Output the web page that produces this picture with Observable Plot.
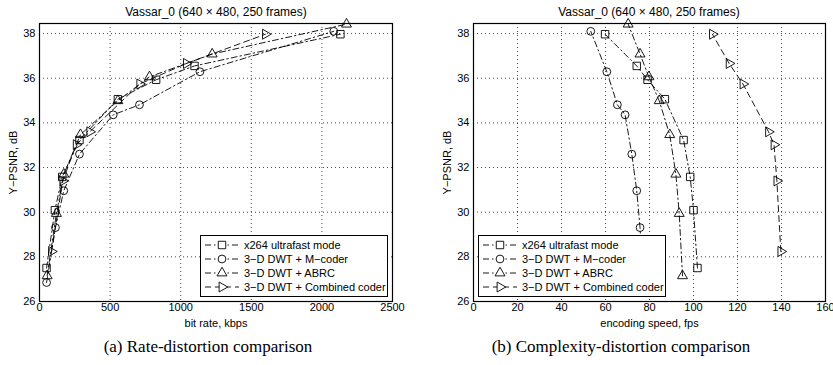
<!DOCTYPE html>
<html><head><meta charset="utf-8">
<script src="https://cdn.jsdelivr.net/npm/d3@7"></script>
<script src="https://cdn.jsdelivr.net/npm/@observablehq/plot@0.6"></script>
<style>
body{margin:0;background:#fff;}
#wrap{position:relative;width:833px;height:365px;overflow:hidden;font-family:"Liberation Sans",Arial,sans-serif;color:#000;}
.abs{position:absolute;}
.title{font-size:12px;transform:translateX(-50%);white-space:nowrap;}
.cap{font-family:"Liberation Serif","Times New Roman",serif;font-size:17px;transform:translateX(-50%);white-space:nowrap;}
.legend{border:1px solid #000;background:#fff;font-size:11px;box-sizing:border-box;padding:2px 0 0 3px;}
.legend .row{display:flex;align-items:center;height:14px;}
.legend svg{margin-right:4px;}
</style>
</head><body>
<div id="wrap"></div>
<script>
// ---- data ----
const seriesNames = ["x264 ultrafast mode", "3\u2212D DWT + M\u2212coder", "3\u2212D DWT + ABRC", "3\u2212D DWT + Combined coder"];
const psnrX264  = [27.5, 30.09, 31.58, 33.23, 35.06, 35.93, 36.55, 37.97];
const rateX264  = [50, 109, 161, 283, 555, 826, 1098, 2131];
const speedX264 = [101.8, 100, 98.5, 95.5, 87.0, 79.1, 74.2, 59.8];

const psnrM  = [26.85, 29.31, 30.96, 32.6, 34.36, 34.81, 36.29, 38.1];
const rateM  = [50, 113, 172, 283, 522, 708, 1136, 2084];
const speedM = [77, 75.7, 74.2, 71.95, 68.9, 65.4, 60.6, 53.3];

const psnrA  = [27.15, 29.94, 31.7, 33.47, 34.99, 36.06, 37.08, 38.42];
const rateA  = [54, 120, 172, 290, 555, 779, 1223, 2174];
const speedA = [95, 93.5, 92, 89.2, 84.4, 79.7, 75.7, 70.3];

const psnrC  = [28.24, 31.4, 33.02, 33.6, 35.74, 36.66, 37.97];
const rateC  = [85, 165, 260, 356, 710, 1040, 1600];
const speedC = [139.7, 137.9, 136.6, 134.1, 122.5, 116.2, 108.6];

const yTicks = [26, 28, 30, 32, 34, 36, 38];
const rateTicks = [0, 500, 1000, 1500, 2000, 2500];
const speedTicks = [0, 20, 40, 60, 80, 100, 120, 140, 160];

// ---- styles ----
const triRight = {draw(ctx, size){ const y = -Math.sqrt(size / (Math.sqrt(3) * 3)); const s3 = Math.sqrt(3);
  ctx.moveTo(-2*y, 0); ctx.lineTo(y, s3*y); ctx.lineTo(y, -s3*y); ctx.closePath(); }};
const styles = [
  {symbol: "square", r: 4.2, dash: "6,3,1.5,3"},
  {symbol: "circle", r: 3.9, dash: "6,3,1.5,3"},
  {symbol: "triangle", r: 3.7, dash: "6,3,1.5,3"},
  {symbol: triRight, r: 3.7, dash: "6,4"}
];
const psnrs = [psnrX264, psnrM, psnrA, psnrC];
const rates = [rateX264, rateM, rateA, rateC];
const speeds = [speedX264, speedM, speedA, speedC];

function rows(xs, k){ return xs[k].map((x,i)=>({x, y: psnrs[k][i]})); }

function chart(xs, xDomain, xTicks, xLabel, width, ml, mr){
  const marks = [
    Plot.ruleX(xTicks, {stroke:"#000", strokeOpacity:0.8, strokeDasharray:"1,3", strokeWidth:0.9}),
    Plot.ruleY(yTicks, {stroke:"#000", strokeOpacity:0.8, strokeDasharray:"1,3", strokeWidth:0.9}),
  ];
  styles.forEach((s,k)=>{
    const d = rows(xs,k);
    marks.push(Plot.line(d, {x:"x", y:"y", stroke:"#000", strokeWidth:0.9, strokeDasharray:s.dash}));
    marks.push(Plot.dot(d, {x:"x", y:"y", symbol: ()=>s.symbol, r:s.r, stroke:"#000", fill:"none", strokeWidth:0.9}));
  });
  marks.push(Plot.frame({stroke:"#000", strokeWidth:1.2}));
  marks.push(Plot.axisX({ticks:xTicks, tickSize:0, tickPadding:2, tickFormat:d3.format("d"), label:xLabel, labelAnchor:"center", labelArrow:"none", labelOffset:25}));
  marks.push(Plot.axisY({ticks:yTicks, tickSize:0, tickPadding:4, tickFormat:d3.format("d"), label:"Y\u2212PSNR, dB", labelAnchor:"center", labelArrow:"none", labelOffset:30}));
  return Plot.plot({
    width, height:329, marginLeft:ml, marginRight:mr, marginTop:23, marginBottom:28,
    x:{domain:xDomain}, y:{domain:[26,38.45]},
    symbol:{type:"identity"},
    style:{fontFamily:"Liberation Sans, Arial, sans-serif", fontSize:"11px", color:"#000", background:"transparent", overflow:"visible"},
    marks
  });
}

const wrap = document.getElementById("wrap");
function place(el, left, top){ el.classList.add("abs"); el.style.left=left+"px"; el.style.top=top+"px"; wrap.appendChild(el); return el; }

place(chart(rates, [0,2500], rateTicks, "bit rate, kbps", 410, 39, 18), 0, 0);
place(chart(speeds, [0,160], speedTicks, "encoding speed, fps", 423, 63, 8), 410, 0);

function div(cls, text){ const d=document.createElement("div"); d.className=cls; d.textContent=text; return d; }
place(div("title","Vassar_0 (640 \u00d7 480, 250 frames)"), 216, 5);
place(div("title","Vassar_0 (640 \u00d7 480, 250 frames)"), 649, 5);
place(div("cap","(a) Rate-distortion comparison"), 208, 337);
place(div("cap","(b) Complexity-distortion comparison"), 621, 337);

function legend(left, top){
  const box = document.createElement("div"); box.className="legend";
  box.style.width="188px"; box.style.height="62px";
  styles.forEach((s,k)=>{
    const row = document.createElement("div"); row.className="row";
    const sv = d3.create("svg").attr("width",36).attr("height",12);
    sv.append("line").attr("x1",1).attr("x2",35).attr("y1",6).attr("y2",6).attr("stroke","#000").attr("stroke-width",0.9).attr("stroke-dasharray",s.dash);
    const sym = typeof s.symbol==="string" ? {square:d3.symbolSquare,circle:d3.symbolCircle,triangle:d3.symbolTriangle}[s.symbol] : s.symbol;
    sv.append("path").attr("transform","translate(18,6)").attr("d", d3.symbol(sym, Math.PI*s.r*s.r)()).attr("fill","#fff").attr("stroke","#000").attr("stroke-width",0.9);
    row.appendChild(sv.node());
    const t=document.createElement("span"); t.textContent=seriesNames[k]; row.appendChild(t);
    box.appendChild(row);
  });
  place(box, left, top);
}
legend(200, 235);
legend(478, 235);
</script>
</body></html>
